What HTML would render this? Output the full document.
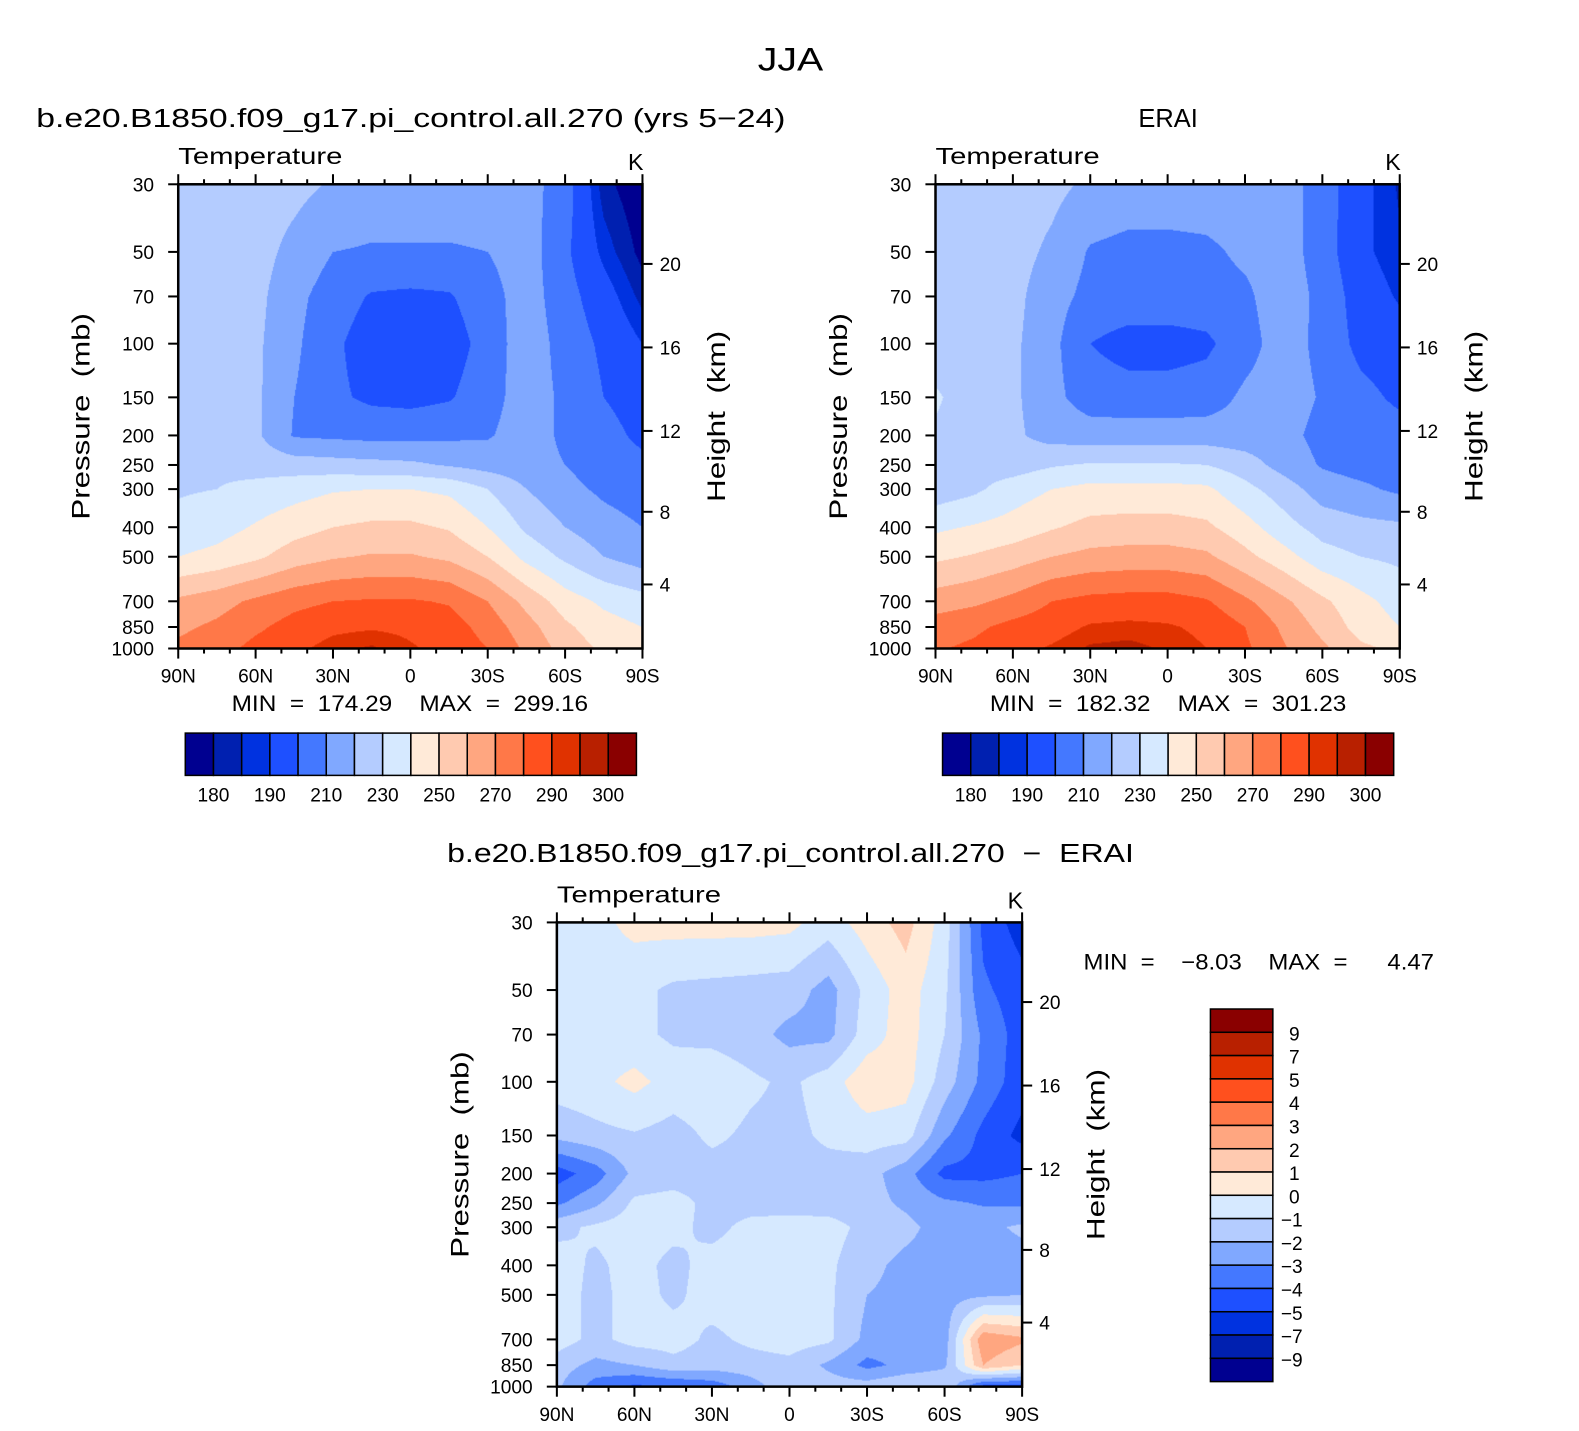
<!DOCTYPE html>
<html><head><meta charset="utf-8">
<style>
html,body{margin:0;padding:0;background:#fff;width:1579px;height:1431px;overflow:hidden}
#root{position:absolute;left:0;top:0;width:1568px;height:1421px;transform:scale(1.007);transform-origin:0 0}
canvas{position:absolute}
svg{position:absolute;left:0;top:0}
text{font-family:"Liberation Sans",sans-serif;fill:#000}
.pre{white-space:pre}
</style></head>
<body>
<div id="root">
<canvas id="c1"></canvas>
<canvas id="c2"></canvas>
<canvas id="c3"></canvas>
<svg id="svg" width="1568" height="1421"></svg>
</div>
<script>
const lats=[90,75,60,45,30,15,0,-15,-30,-45,-60,-75,-90];
const plevs=[30,50,70,100,150,200,250,300,400,500,700,850,1000];
const pTickLabels=['30','50','70','100','150','200','250','300','400','500','700','850','1000'];
const kmTicks=[4,8,12,16,20];
const latTicks=[90,60,30,0,-30,-60,-90];
const latTickLabels=['90N','60N','30N','0','30S','60S','90S'];
const tempLevels=[180,185,190,200,210,220,230,240,250,260,270,280,290,295,300];
const tempBarLabels=['180','190','210','230','250','270','290','300'];
const diffLevels=[-9,-7,-5,-4,-3,-2,-1,0,1,2,3,4,5,7,9];
const diffBarLabels=['−9','−7','−5','−4','−3','−2','−1','0','1','2','3','4','5','7','9'];
const palette=["#000090","#0020b0","#0032e0","#1e50ff","#4478ff","#80a8ff","#b4ccff","#d6e9ff","#ffead8","#ffcab0","#ffa680","#ff7848","#ff501e","#e03200","#b82000","#8a0000"];
const modelT=[
[225,225,225,223,219,216,216,216,216,214,205,182,175],
[225,225,224,217,210,209,209,209,210,215,202,188,178],
[225,225,223,213,205,199,198,199,206,215,204,194,183],
[225,225,222,212,202,195,194,195,204,216,206,198,190],
[225,225,222,210,202,198,197,199,206,215,208,200,196],
[226,226,222,209,208,207,207,208,209,215,208,203,198],
[228,228,226,225,224,223,222,219,216,214,210,205,202],
[229,230,233,236,239,240,240,238,230,220,213,208,205],
[233,236,241,246,250,252,252,249,240,228,220,214,210],
[240,243,248,255,259,261,261,258,250,237,228,220,215],
[262,266,272,277,280,281,281,279,270,257,245,238,234],
[268,272,278,284,288,289,288,285,276,264,252,244,240],
[272,276,283,288,293,296,291,287,280,268,256,248,244]];
const eraiT=[
[229,226,225,223,218,216,216,216,216,215,205,193,184],
[226,225,224,218,209,207,207,208,212,215,205,192,186],
[226,225,223,214,207,206,206,206,208,216,207,195,189],
[226,225,222,213,200,196,196,198,206,215,207,197,194],
[231,226,222,213,205,204,204,205,212,215,209,203,198],
[229,226,222,216,215,215,215,215,214,213,207,205,204],
[226,226,225,229,231,231,231,230,225,216,209,206,205],
[224,228,235,240,243,243,243,242,233,225,215,212,208],
[238,241,244,249,253,254,254,252,244,234,226,223,222],
[248,251,255,260,263,264,264,262,253,244,234,230,228],
[265,268,273,280,283,284,284,281,272,262,252,243,236],
[275,278,283,286,291,292,291,288,280,268,257,246,240],
[279,282,287,291,296,297,294,290,282,271,262,252,248]];
const diffT=[
[-0.5,-0.3,0.3,0.4,0.4,0.4,0.3,-0.5,0.5,1.4,-0.5,-4.3,-5.5],
[-0.5,-0.5,-0.7,-1.2,-1.3,-1.4,-1.5,-2.4,-0.7,0.5,-0.8,-3.8,-4.6],
[-0.5,-0.5,-0.7,-1.2,-1.3,-1.6,-2.3,-2.3,-0.5,0.5,-1.0,-3.2,-4.5],
[-0.5,-0.3,0.3,-0.4,-0.3,-0.8,-1.2,-0.5,0.7,0.4,-1.5,-3.3,-4.6],
[-1.7,-1.3,-1.1,-1.4,-0.8,-1.2,-1.3,-0.8,-0.5,-0.6,-2.8,-4.3,-5.3],
[-4.5,-3.5,-1.7,-1.5,-1.4,-1.4,-1.4,-1.4,-1.6,-2.6,-4.3,-4.3,-4.0],
[-3.2,-2.2,-0.8,-0.6,-1.3,-1.4,-1.5,-1.5,-1.6,-2.2,-2.8,-3.1,-3.2],
[-1.3,-0.8,-0.5,-0.7,-1.3,-0.7,-0.5,-0.6,-1.3,-1.7,-2.5,-2.3,-1.8],
[-0.5,-1.2,-0.6,-1.3,-0.6,-0.5,-0.5,-0.8,-1.7,-2.3,-2.4,-2.5,-2.5],
[-0.5,-1.3,-0.6,-1.2,-0.6,-0.5,-0.4,-0.8,-2.0,-2.3,-2.4,-2.2,-2.0],
[-0.5,-1.3,-0.6,-0.6,-1.2,-0.8,-0.5,-0.8,-2.3,-2.5,-2.5,2.8,2.2],
[-1.5,-2.3,-2.0,-1.3,-1.5,-1.4,-1.3,-2.2,-3.3,-2.7,-2.2,2.0,1.0],
[-1.8,-3.5,-4.2,-4.0,-3.6,-2.5,-1.2,-1.5,-1.5,-1.0,-1.0,-4.5,-4.5]];

const NS='http://www.w3.org/2000/svg';
const svg=document.getElementById('svg');
function mk(tag,attrs,txt){const e=document.createElementNS(NS,tag);for(const k in attrs)e.setAttribute(k,attrs[k]);if(txt!==undefined)e.textContent=txt;svg.appendChild(e);return e;}
const LR=Math.log(1000/30);
function xOf(p,lat){return p.x0+(90-lat)/180*p.W;}
function yOf(p,pr){return p.y0+Math.log(pr/30)/LR*p.H;}
function kmToP(z){z*=1000;if(z<=11000)return 1013.25*Math.pow(1-2.25577e-5*z,5.25588);return 226.32*Math.exp(-(z-11000)/6341.6);}
function hexRGB(h){return [parseInt(h.substr(1,2),16),parseInt(h.substr(3,2),16),parseInt(h.substr(5,2),16)];}
const rgb=palette.map(hexRGB);

function fillPanel(id,p,grid,levels){
  const c=document.getElementById(id);
  c.width=p.W;c.height=p.H;c.style.left=p.x0+'px';c.style.top=p.y0+'px';
  const ctx=c.getContext('2d');const img=ctx.createImageData(p.W,p.H);
  const lp=plevs.map(v=>Math.log(v));
  for(let py=0;py<p.H;py++){
    const l=Math.log(30)+(py+0.5)/p.H*LR;
    let i=0;while(i<plevs.length-2&&lp[i+1]<l)i++;
    const t=Math.min(1,Math.max(0,(l-lp[i])/(lp[i+1]-lp[i])));
    for(let px=0;px<p.W;px++){
      const lat=90-(px+0.5)/p.W*180;
      let j=0;while(j<lats.length-2&&lats[j+1]>lat)j++;
      const s=Math.min(1,Math.max(0,(lats[j]-lat)/(lats[j]-lats[j+1])));
      const v=(grid[i][j]*(1-s)+grid[i][j+1]*s)*(1-t)+(grid[i+1][j]*(1-s)+grid[i+1][j+1]*s)*t;
      let k=0;while(k<levels.length&&v>=levels[k])k++;
      const col=rgb[k];const o=(py*p.W+px)*4;
      img.data[o]=col[0];img.data[o+1]=col[1];img.data[o+2]=col[2];img.data[o+3]=255;
    }
  }
  ctx.putImageData(img,0,0);
}

function axes(p,tag){
  const f=mk('rect',{x:p.x0,y:p.y0,width:p.W,height:p.H,fill:'none',stroke:'#000','stroke-width':2.5});
  
  
  for(let lat=90;lat>=-90;lat-=10){
    const x=xOf(p,lat);const major=(lat%30===0);const L=major?10:5;
    const t1=mk('line',{x1:x,y1:p.y0,x2:x,y2:p.y0-L,stroke:'#000','stroke-width':2});
    
    
    const t2=mk('line',{x1:x,y1:p.y0+p.H,x2:x,y2:p.y0+p.H+L,stroke:'#000','stroke-width':2});
    
    
  }
  latTicks.forEach((lat,i)=>{
    const t=mk('text',{x:xOf(p,lat),y:p.y0+p.H+34,'font-size':19,'text-anchor':'middle'},latTickLabels[i]);
    
    
  });
  plevs.forEach((pr,i)=>{
    const y=yOf(p,pr);
    const l=mk('line',{x1:p.x0,y1:y,x2:p.x0-10,y2:y,stroke:'#000','stroke-width':2});
    
    
    const t=mk('text',{x:p.x0-24,y:y+7,'font-size':19,'text-anchor':'end'},pTickLabels[i]);
    
    
  });
  kmTicks.forEach(km=>{
    const y=yOf(p,kmToP(km));
    const l=mk('line',{x1:p.x0+p.W,y1:y,x2:p.x0+p.W+10,y2:y,stroke:'#000','stroke-width':2});
    
    
    const t=mk('text',{x:p.x0+p.W+17,y:y+7,'font-size':19},String(km));
    
    
  });
  const cy=p.y0+p.H/2;
  const yl=mk('text',{x:0,y:0,'font-size':25,'text-anchor':'middle',class:'pre',transform:`translate(${p.x0-88},${cy}) rotate(-90)`,textLength:205,lengthAdjust:'spacingAndGlyphs'},'Pressure  (mb)');
  
  
  const hl=mk('text',{x:0,y:0,'font-size':25,'text-anchor':'middle',class:'pre',transform:`translate(${p.x0+p.W+82},${cy}) rotate(-90)`,textLength:170,lengthAdjust:'spacingAndGlyphs'},'Height  (km)');
  
  
  const tt=mk('text',{x:p.x0,y:p.y0-20,'font-size':23,textLength:163,lengthAdjust:'spacingAndGlyphs'},'Temperature');
  
  
  const kk=mk('text',{x:p.x0+p.W+1,y:p.y0-14,'font-size':23,'text-anchor':'end'},'K');
  
  
}

function hBar(x,y,tag){
  for(let i=0;i<16;i++){
    const r=mk('rect',{x:x+i*28,y:y,width:28,height:42,fill:palette[i],stroke:'#000','stroke-width':1.5});
    
    
  }
  tempBarLabels.forEach((s,n)=>{
    const k=n*2;
    const t=mk('text',{x:x+(k+1)*28,y:y+68,'font-size':19,'text-anchor':'middle'},s);
    
    
  });
}

const P1={x0:177,y0:183,W:461,H:461};
const P2={x0:929,y0:183,W:461,H:461};
const P3={x0:553,y0:916,W:462,H:461};
fillPanel('c1',P1,modelT,tempLevels);
fillPanel('c2',P2,eraiT,tempLevels);
fillPanel('c3',P3,diffT,diffLevels);
axes(P1,'model');axes(P2,'erai');axes(P3,'diff');

let e;
e=mk('text',{x:785,y:70,'font-size':32,'text-anchor':'middle',textLength:65,lengthAdjust:'spacingAndGlyphs'},'JJA');


e=mk('text',{x:36,y:126,'font-size':26,textLength:744,lengthAdjust:'spacingAndGlyphs'},'b.e20.B1850.f09_g17.pi_control.all.270 (yrs 5−24)');


e=mk('text',{x:1160,y:126,'font-size':26,'text-anchor':'middle',textLength:59,lengthAdjust:'spacingAndGlyphs'},'ERAI');


e=mk('text',{x:785,y:856,'font-size':26,'text-anchor':'middle',class:'pre',textLength:682,lengthAdjust:'spacingAndGlyphs'},'b.e20.B1850.f09_g17.pi_control.all.270  −  ERAI');


e=mk('text',{x:230,y:706,'font-size':22,class:'pre',textLength:354,lengthAdjust:'spacingAndGlyphs'},'MIN  =  174.29    MAX  =  299.16');


e=mk('text',{x:983,y:706,'font-size':22,class:'pre',textLength:354,lengthAdjust:'spacingAndGlyphs'},'MIN  =  182.32    MAX  =  301.23');


e=mk('text',{x:1076,y:963,'font-size':22,class:'pre',textLength:348,lengthAdjust:'spacingAndGlyphs'},'MIN  =    −8.03    MAX  =      4.47');


hBar(184,728,'model');
hBar(936,728,'erai');
const vb={x:1202,y:1002,w:62,h:370/16};
for(let i=0;i<16;i++){
  const r=mk('rect',{x:vb.x,y:vb.y+i*vb.h,width:vb.w,height:vb.h,fill:palette[15-i],stroke:'#000','stroke-width':1.5});
  
  
}
diffLevels.forEach((lv,k)=>{
  const y=vb.y+(15-k)*vb.h;
  const t=mk('text',{x:lv<0?1272:1280,y:y+8,'font-size':19},diffBarLabels[k]);
  
  
});
</script>
</body></html>
